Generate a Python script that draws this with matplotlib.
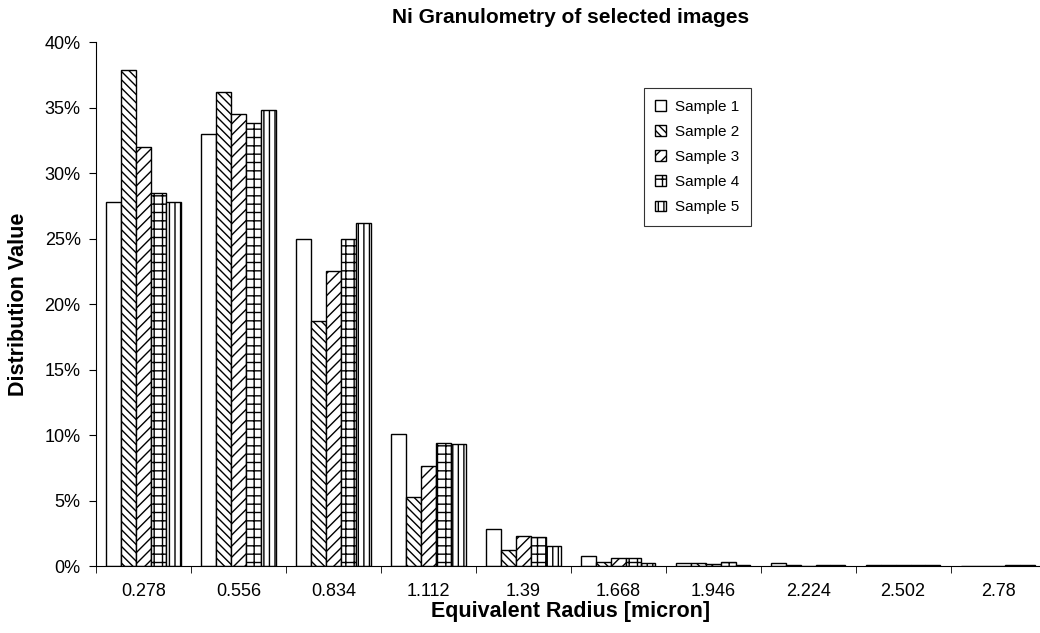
import numpy as np
import matplotlib
matplotlib.use('Agg')
import matplotlib.pyplot as plt
from matplotlib.ticker import PercentFormatter

plt.rcParams['font.family'] = ['Liberation Sans', 'DejaVu Sans']
plt.rcParams['hatch.linewidth'] = 1.0

radius = ['0.278', '0.556', '0.834', '1.112', '1.39', '1.668', '1.946', '2.224', '2.502', '2.78']
sample1 = [27.8, 33.0, 25.0, 10.1, 2.8, 0.76, 0.25, 0.20, 0.10, 0.00]
sample2 = [37.9, 36.2, 18.7, 5.3, 1.2, 0.28, 0.20, 0.08, 0.10, 0.00]
sample3 = [32.0, 34.5, 22.5, 7.6, 2.3, 0.63, 0.15, 0.03, 0.10, 0.00]
sample4 = [28.5, 33.8, 25.0, 9.4, 2.25, 0.63, 0.30, 0.05, 0.10, 0.10]
sample5 = [27.8, 34.8, 26.2, 9.3, 1.5, 0.20, 0.10, 0.05, 0.05, 0.10]

series = [('Sample 1', sample1, ''), ('Sample 2', sample2, '\\\\\\\\'),
          ('Sample 3', sample3, '///'), ('Sample 4', sample4, '++'),
          ('Sample 5', sample5, '|||')]

fig = plt.figure(figsize=(10.4, 6.33), dpi=100)
ax = fig.add_axes([0.0923, 0.1058, 0.913, 0.8278])

x = np.arange(len(radius))
w = 0.157
for i, (name, vals, hatch) in enumerate(series):
    ax.bar(x + (i - 2) * w, vals, width=w, color='white', edgecolor='black',
           linewidth=1.0, hatch=hatch, label=name)

ax.set_xlim(-0.5, 9.5)
ax.set_ylim(0, 40)
ax.set_yticks(np.arange(0, 41, 5))
ax.yaxis.set_major_formatter(PercentFormatter(decimals=0))
ax.set_xticks(x)
ax.set_xticklabels(radius)
ax.set_xticks(np.arange(-0.5, 9.6, 1), minor=True)
ax.tick_params(axis='x', which='major', length=0, pad=12, labelsize=13)
ax.tick_params(axis='x', which='minor', length=5, direction='out')
ax.tick_params(axis='y', length=5, direction='out', labelsize=13, pad=6)
for s in ('top', 'right'):
    ax.spines[s].set_visible(False)

ax.set_title('Ni Granulometry of selected images', fontsize=15, fontweight='bold', pad=14)
ax.set_xlabel('Equivalent Radius [micron]', fontsize=15.5, fontweight='bold', labelpad=1)
ax.set_ylabel('Distribution Value', fontsize=15.5, fontweight='bold', labelpad=11)

leg = ax.legend(loc='upper left', bbox_to_anchor=(0.577, 0.912), borderaxespad=0,
                fontsize=11, frameon=True, fancybox=False, edgecolor='black',
                handlelength=0.7, handleheight=0.7, handletextpad=0.6,
                labelspacing=0.73, borderpad=0.75)
leg.get_frame().set_linewidth(0.8)

fig.savefig('out.png', dpi=100)
